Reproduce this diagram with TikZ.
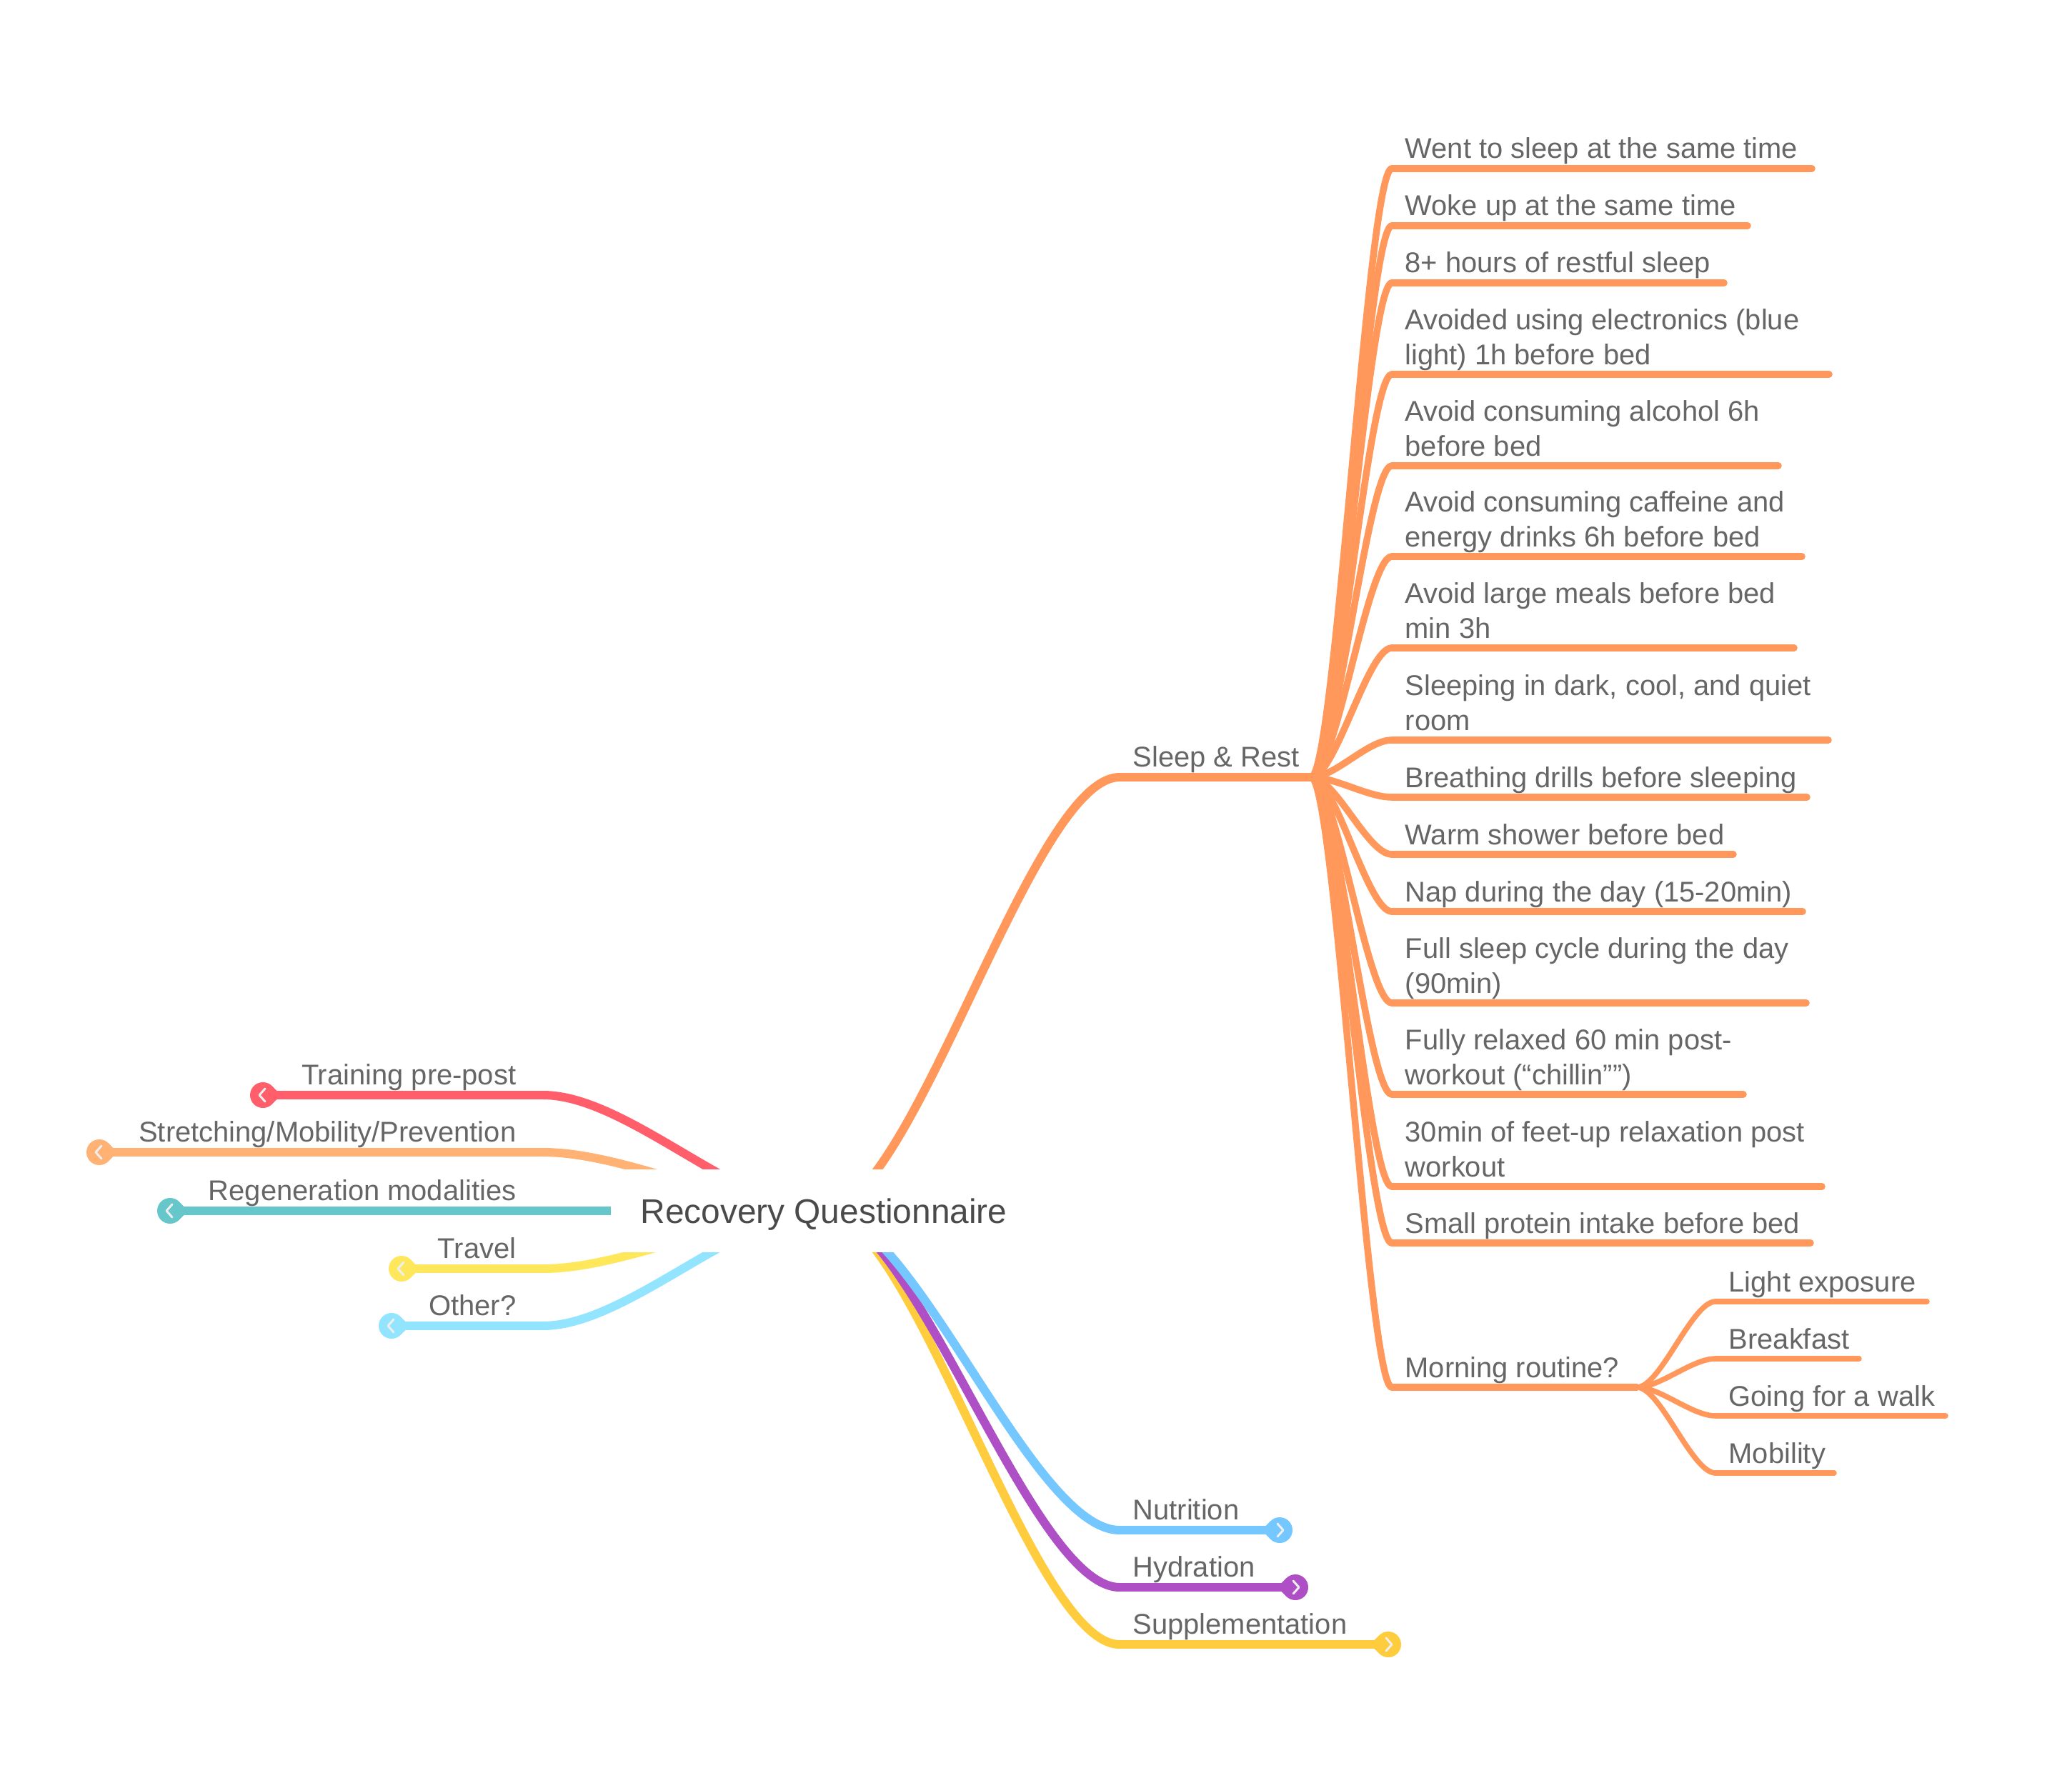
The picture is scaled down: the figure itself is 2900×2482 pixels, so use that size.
\documentclass[tikz,border=0pt]{standalone}
\usepackage{fontspec}
\setmainfont{Liberation Sans}
\usetikzlibrary{calc}
\pgfdeclarelayer{back}
\pgfdeclarelayer{bg}
\pgfsetlayers{back,bg,main}
\definecolor{csleep}{HTML}{FF985A}
\definecolor{ctrain}{HTML}{FF5E6A}
\definecolor{cstretch}{HTML}{FFB273}
\definecolor{cregen}{HTML}{65C7CA}
\definecolor{ctravel}{HTML}{FFE75B}
\definecolor{cother}{HTML}{93E4FF}
\definecolor{cnutri}{HTML}{74C7FF}
\definecolor{chydra}{HTML}{AF4FC6}
\definecolor{csupp}{HTML}{FFCC3D}
\definecolor{cgrey}{HTML}{666666}
\definecolor{cdark}{HTML}{4A4A4A}
\definecolor{cchev}{HTML}{EEEEEE}
\newcommand\leaffont{\fontsize{11.35pt}{13.66pt}\selectfont}
\newcommand\rootfont{\fontsize{13.6pt}{16pt}\selectfont}
\tikzset{
  branch/.style={line width=0.12cm, line cap=round},
  leafline/.style={line width=0.095cm, line cap=round, draw=csleep},
  subline/.style={line width=0.075cm, line cap=round, draw=csleep},
  lbl/.style={inner sep=0pt, text=cgrey, font=\leaffont, anchor=base west},
  chev/.style={draw=cchev, line width=0.03cm, line cap=round, line join=round},
}
\newcommand\mmlink[3]{\draw[#1] let \p1=(#2), \p2=(#3) in (\p1) .. controls ({\x1+0.3*(\x2-\x1)},\y1) and ({\x2-0.3*(\x2-\x1)},\y2) .. (\p2);}
\newcommand\mmleaf[7]{%
  \coordinate (#1-s) at (#3,#4);
  \coordinate (#1-e) at (#5,#4);
  \node[lbl] (#1) at ({#3+18},{#4-14}) {\parbox[b]{7cm}{\raggedright #7}};
  \begin{pgfonlayer}{bg}
    \mmlink{#6}{#2}{#1-s}
    \draw[#6] (#1-s) -- (#1-e);
  \end{pgfonlayer}}
\newcommand\knobR[3]{%
  \coordinate (#1) at (#3);
  \fill[#2] (#1) circle[radius=18];
  \fill[#2] ($(#1)+(-25.5,0)$) -- ($(#1)+(-12.73,-12.73)$) -- ($(#1)+(-12.73,12.73)$) -- cycle;
  \draw[chev] ($(#1)+(-3,-9)$) -- ($(#1)+(5,0)$) -- ($(#1)+(-3,9)$);}
\newcommand\knobL[3]{%
  \coordinate (#1) at (#3);
  \fill[#2] (#1) circle[radius=18];
  \fill[#2] ($(#1)+(25.5,0)$) -- ($(#1)+(12.73,-12.73)$) -- ($(#1)+(12.73,12.73)$) -- cycle;
  \draw[chev] ($(#1)+(3,-9)$) -- ($(#1)+(-5,0)$) -- ($(#1)+(3,9)$);}
\begin{document}
\begin{tikzpicture}[x=0.01cm, y=-0.01cm]
\useasboundingbox (0,0) rectangle (2900,2482);
\begin{pgfonlayer}{back}
  \fill[white] (0,0) rectangle (2900,2482);
\end{pgfonlayer}

% root
\node[fill=white, inner sep=0pt, minimum width=5.96cm, minimum height=1.16cm,
      text height=0.34cm, text depth=0cm, font=\rootfont, text=cdark] (root) at (1153,1695) {Recovery Questionnaire};

% ---------- Sleep & Rest ----------
\coordinate (sr-s) at (1567,1088);
\coordinate (J) at (1835,1088);
\node[lbl] (sr) at (1585,1073) {Sleep \& Rest};
\begin{pgfonlayer}{bg}
  \mmlink{branch, draw=csleep}{root}{sr-s}
  \draw[branch, draw=csleep] (sr-s) -- (J);
\end{pgfonlayer}

\mmleaf{l1}{J}{1948}{236}{2536}{leafline}{Went to sleep at the same time}
\mmleaf{l2}{J}{1948}{316}{2446}{leafline}{Woke up at the same time}
\mmleaf{l3}{J}{1948}{396}{2413}{leafline}{8+ hours of restful sleep}
\mmleaf{l4}{J}{1948}{524}{2560}{leafline}{Avoided using electronics (blue\\light) 1h before bed}
\mmleaf{l5}{J}{1948}{652}{2489}{leafline}{Avoid consuming alcohol 6h\\before bed}
\mmleaf{l6}{J}{1948}{779}{2522}{leafline}{Avoid consuming caffeine and\\energy drinks 6h before bed}
\mmleaf{l7}{J}{1948}{907}{2511}{leafline}{Avoid large meals before bed\\min 3h}
\mmleaf{l8}{J}{1948}{1036}{2559}{leafline}{Sleeping in dark, cool, and quiet\\room}
\mmleaf{l9}{J}{1948}{1116}{2529}{leafline}{Breathing drills before sleeping}
\mmleaf{l10}{J}{1948}{1196}{2426}{leafline}{Warm shower before bed}
\mmleaf{l11}{J}{1948}{1276}{2523}{leafline}{Nap during the day (15-20min)}
\mmleaf{l12}{J}{1948}{1404}{2528}{leafline}{Full sleep cycle during the day\\(90min)}
\mmleaf{l13}{J}{1948}{1532}{2440}{leafline}{Fully relaxed 60 min post-\\workout (“chillin””)}
\mmleaf{l14}{J}{1948}{1661}{2550}{leafline}{30min of feet-up relaxation post\\workout}
\mmleaf{l15}{J}{1948}{1740}{2534}{leafline}{Small protein intake before bed}
\mmleaf{mr}{J}{1948}{1942}{2291}{leafline}{Morning routine?}

\mmleaf{m1}{mr-e}{2401}{1822}{2697}{subline}{Light exposure}
\mmleaf{m2}{mr-e}{2401}{1902}{2602}{subline}{Breakfast}
\mmleaf{m3}{mr-e}{2401}{1982}{2723}{subline}{Going for a walk}
\mmleaf{m4}{mr-e}{2401}{2062}{2567}{subline}{Mobility}

% ---------- right lower branches ----------
\coordinate (nut-s) at (1567,2142);
\coordinate (hyd-s) at (1567,2222);
\coordinate (sup-s) at (1567,2302);
\node[lbl] (nut) at (1585,2127) {Nutrition};
\node[lbl] (hyd) at (1585,2207) {Hydration};
\node[lbl] (sup) at (1585,2287) {Supplementation};
\knobR{nut-k}{cnutri}{1791,2142}
\knobR{hyd-k}{chydra}{1813,2222}
\knobR{sup-k}{csupp}{1943,2302}
\begin{pgfonlayer}{bg}
  \mmlink{branch, draw=csupp}{root}{sup-s}
  \draw[branch, draw=csupp] (sup-s) -- (sup-k);
  \mmlink{branch, draw=chydra}{root}{hyd-s}
  \draw[branch, draw=chydra] (hyd-s) -- (hyd-k);
  \mmlink{branch, draw=cnutri}{root}{nut-s}
  \draw[branch, draw=cnutri] (nut-s) -- (nut-k);
\end{pgfonlayer}

% ---------- left branches ----------
\coordinate (trn-s) at (760,1533);
\coordinate (str-s) at (760,1613);
\coordinate (reg-s) at (760,1695);
\coordinate (trv-s) at (760,1776);
\coordinate (oth-s) at (760,1856);
\node[lbl, anchor=base east] (trn) at (723,1518) {Training pre-post};
\node[lbl, anchor=base east] (str) at (723,1598) {Stretching/Mobility/Prevention};
\node[lbl, anchor=base east] (reg) at (723,1680) {Regeneration modalities};
\node[lbl, anchor=base east] (trv) at (723,1761) {Travel};
\node[lbl, anchor=base east] (oth) at (723,1841) {Other?};
\knobL{trn-k}{ctrain}{368,1533}
\knobL{str-k}{cstretch}{139,1613}
\knobL{reg-k}{cregen}{238,1695}
\knobL{trv-k}{ctravel}{562,1776}
\knobL{oth-k}{cother}{548,1856}
\begin{pgfonlayer}{bg}
  \mmlink{branch, draw=ctrain}{root}{trn-s}
  \draw[branch, draw=ctrain] (trn-s) -- (trn-k);
  \mmlink{branch, draw=cstretch}{root}{str-s}
  \draw[branch, draw=cstretch] (str-s) -- (str-k);
  \draw[branch, draw=cregen] (root) -- (reg-s) -- (reg-k);
  \mmlink{branch, draw=ctravel}{root}{trv-s}
  \draw[branch, draw=ctravel] (trv-s) -- (trv-k);
  \mmlink{branch, draw=cother}{root}{oth-s}
  \draw[branch, draw=cother] (oth-s) -- (oth-k);
\end{pgfonlayer}
\end{tikzpicture}
\end{document}
